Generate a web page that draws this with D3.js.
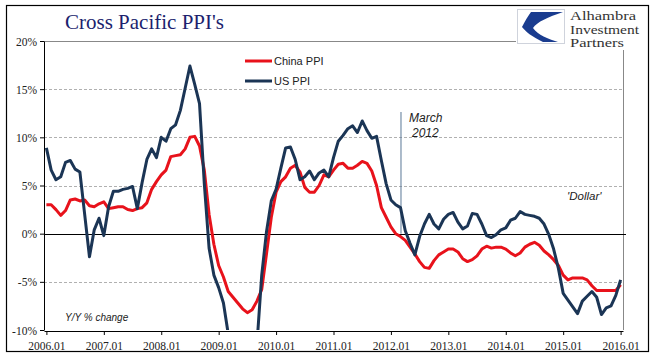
<!DOCTYPE html>
<html>
<head>
<meta charset="utf-8">
<script src="https://cdn.jsdelivr.net/npm/d3@7"></script>
<style>
  body { margin: 0; background: #fff; }
  svg { display: block; }
  .tick text { font-family: 'Liberation Serif', 'DejaVu Serif', serif; font-size: 11.5px; fill: #222; }
</style>
</head>
<body>
<svg id="chart" width="670" height="358"></svg>
<script>
// monthly, 2006.01 .. 2016.01
const startYear = 2006;
const monthCount = 121;
const months = d3.range(monthCount).map((i) => {
  const yr = startYear + Math.floor(i / 12);
  const m = (i % 12) + 1;
  return `${yr}.${String(m).padStart(2, '0')}`;
});

const tickLabels = ['2006.01', '2007.01', '2008.01', '2009.01', '2010.01', '2011.01',
  '2012.01', '2013.01', '2014.01', '2015.01', '2016.01'];
const yTicks = [-10, -5, 0, 5, 10, 15, 20];

const chinaPPI = [
  3.0, 3.0, 2.5, 1.9, 2.4, 3.5, 3.6, 3.4, 3.5, 2.9, 2.8, 3.1,
  3.3, 2.6, 2.7, 2.8, 2.8, 2.5, 2.4, 2.6, 2.7, 3.2, 4.6, 5.4,
  6.1, 6.6, 8.0, 8.1, 8.2, 8.8, 10.0, 10.1, 9.1, 6.6, 2.0, -1.1,
  -3.3, -4.5, -6.0, -6.6, -7.2, -7.8, -8.2, -7.9, -7.0, -5.8, -2.1, 1.7,
  4.3, 5.4, 5.9, 6.8, 7.1, 6.4, 4.8, 4.3, 4.3, 5.0, 6.1, 5.9,
  6.6, 7.2, 7.3, 6.8, 6.8, 7.1, 7.5, 7.3, 6.5, 5.0, 2.7, 1.7,
  0.7, 0.0, -0.3, -0.7, -1.4, -2.1, -2.9, -3.5, -3.6, -2.8, -2.2, -1.9,
  -1.6, -1.6, -1.9, -2.6, -2.9, -2.7, -2.3, -1.6, -1.3, -1.5, -1.4, -1.4,
  -1.6, -2.0, -2.3, -2.0, -1.4, -1.1, -0.9, -1.2, -1.8, -2.2, -2.7, -3.3,
  -4.3, -4.8, -4.6, -4.6, -4.6, -4.8, -5.4, -5.9, -5.9, -5.9, -5.9, -5.9,
  -5.3
];

const usPPI = [
  8.9, 6.6, 5.6, 5.9, 7.4, 7.6, 6.7, 6.4, 2.0, -2.4, 0.4, 1.6,
  -0.2, 2.8, 4.4, 4.4, 4.6, 4.7, 4.9, 2.6, 5.3, 7.7, 8.8, 7.9,
  10.0, 9.6, 10.9, 11.3, 12.8, 15.1, 17.4, 15.5, 13.5, 5.2, -1.5, -4.3,
  -5.6, -7.2, -10.4, -12.5, -14.6, -15.3, -16.6, -14.0, -11.5, -4.3, 0.2, 3.4,
  4.6, 6.8, 8.9, 9.0, 7.7, 5.6, 5.9, 6.5, 5.6, 6.3, 6.6, 5.9,
  7.9, 9.6, 10.2, 10.9, 11.2, 10.5, 11.7, 10.7, 9.9, 10.1, 7.6, 5.2,
  3.5, 3.0, 2.7, 0.3, -1.0, -2.2, -0.3, 1.0, 2.0, 1.0, 0.5, 1.5,
  2.0, 2.2, 1.2, 0.5, 0.8, 2.1, 2.0, 1.0, -0.2, -0.4, -0.1, 0.4,
  0.6, 1.4, 1.6, 2.3, 2.0, 1.9, 1.8, 1.6, 1.0, -0.1, -1.6, -3.6,
  -6.2, -6.9, -7.6, -8.3, -7.0, -6.5, -6.0, -6.6, -8.4, -7.7, -7.5, -6.4,
  -4.8
];

const series = [
  { name: 'China PPI', values: chinaPPI, color: '#e8121b' },
  { name: 'US PPI', values: usPPI, color: '#1b3555' }
];

const svg = d3.select('#chart');
const plot = { left: 44, right: 623, top: 41, bottom: 330 };

const x = d3.scalePoint().domain(months).range([plot.left, plot.right]).padding(0.5);
const y = d3.scaleLinear().domain([-10, 20]).range([plot.bottom, plot.top]);

// outer frame
svg.append('rect')
  .attr('x', 6.5).attr('y', 5.5).attr('width', 642).attr('height', 346)
  .attr('fill', 'none').attr('stroke', '#000').attr('stroke-width', 1.2);

// title
svg.append('text')
  .attr('x', 65).attr('y', 29)
  .attr('font-family', "'Liberation Serif', serif")
  .attr('font-size', 21)
  .attr('fill', '#1c1f6e')
  .text("Cross Pacific PPI's");

// gridlines
svg.append('g')
  .selectAll('line')
  .data(yTicks.filter((d) => d !== 0 && d !== -10 && d !== 20))
  .join('line')
  .attr('x1', plot.left).attr('x2', plot.right)
  .attr('y1', (d) => Math.round(y(d)) + 0.5).attr('y2', (d) => Math.round(y(d)) + 0.5)
  .attr('stroke', '#b0b0b0').attr('stroke-dasharray', '3,2');

// top and right plot borders
svg.append('line')
  .attr('x1', plot.left).attr('x2', 516)
  .attr('y1', Math.round(y(20)) + 0.5).attr('y2', Math.round(y(20)) + 0.5)
  .attr('stroke', '#888');
svg.append('line')
  .attr('x1', plot.right + 0.5).attr('x2', plot.right + 0.5)
  .attr('y1', 50).attr('y2', plot.bottom)
  .attr('stroke', '#888');

// zero line
svg.append('line')
  .attr('x1', plot.left).attr('x2', plot.right + 3)
  .attr('y1', Math.round(y(0)) + 0.5).attr('y2', Math.round(y(0)) + 0.5)
  .attr('stroke', '#000');

// March 2012 marker
svg.append('line')
  .attr('x1', x('2012.03') + 0.5).attr('x2', x('2012.03') + 0.5)
  .attr('y1', 112).attr('y2', y(0))
  .attr('stroke', '#5a7896').attr('stroke-width', 1);

const annot = svg.append('g')
  .attr('font-family', "'Liberation Sans', 'DejaVu Sans', sans-serif")
  .attr('font-style', 'italic')
  .attr('fill', '#222');
annot.append('text').attr('x', 409).attr('y', 122).attr('font-size', 12).text('March');
annot.append('text').attr('x', 412).attr('y', 137).attr('font-size', 12).text('2012');
annot.append('text').attr('x', 567).attr('y', 200).attr('font-size', 11.5).text("'Dollar'");
annot.append('text').attr('x', 65).attr('y', 321).attr('font-size', 10).text('Y/Y % change');

// lines
svg.append('clipPath').attr('id', 'plot-clip')
  .append('rect').attr('x', plot.left).attr('y', 20)
  .attr('width', plot.right - plot.left + 4).attr('height', plot.bottom - 20);

const line = d3.line()
  .x((d, i) => x(months[i]))
  .y((d) => y(d));

svg.append('g')
  .attr('clip-path', 'url(#plot-clip)')
  .selectAll('path')
  .data(series)
  .join('path')
  .attr('d', (s) => line(s.values))
  .attr('fill', 'none')
  .attr('stroke', (s) => s.color)
  .attr('stroke-width', 3)
  .attr('stroke-linejoin', 'round');

// axes
const yAxis = svg.append('g')
  .attr('transform', `translate(${plot.left},0)`)
  .call(d3.axisLeft(y).tickValues(yTicks).tickFormat((d) => d + '%').tickSize(4).tickSizeOuter(0));
yAxis.select('.domain').attr('stroke', '#000');
yAxis.selectAll('.tick text').attr('x', -7).attr('dy', '0.35em');

const xAxis = svg.append('g')
  .attr('transform', `translate(0,${plot.bottom + 1})`)
  .call(d3.axisBottom(x).tickValues(tickLabels).tickSize(4).tickSizeOuter(0));
xAxis.select('.domain').attr('stroke', '#000');
xAxis.selectAll('.tick text').attr('dy', '1.05em');

// legend
const legend = svg.append('g');
series.forEach((s, i) => {
  const ly = 61 + i * 20;
  legend.append('line')
    .attr('x1', 245).attr('x2', 272).attr('y1', ly).attr('y2', ly)
    .attr('stroke', s.color).attr('stroke-width', 3);
  legend.append('text')
    .attr('x', 274).attr('y', ly + 4)
    .attr('font-family', "'Liberation Sans', Arial, sans-serif")
    .attr('font-size', 11)
    .attr('fill', '#222')
    .text(s.name);
});

// logo
const logo = svg.append('g');
logo.append('rect')
  .attr('x', 517.5).attr('y', 9.5).attr('width', 47).attr('height', 34)
  .attr('fill', '#fff').attr('stroke', '#cfd3dc');
logo.append('path')
  .attr('d', 'M531,12 L563,12 C548,17 537,22 533,28 C538,35 548,39 558,42 L543,42 C532,37 525,31 522,27 C525,21 528,16 531,12 Z')
  .attr('fill', '#1a3c8f');
const logoLines = [
  { t: 'Alhambra', w: 66 },
  { t: 'Investment', w: 69 },
  { t: 'Partners', w: 54 }
];
logoLines.forEach((d, i) => {
  logo.append('text')
    .attr('x', 570).attr('y', 20 + i * 13.5)
    .attr('font-family', "'Liberation Serif', serif")
    .attr('font-size', 11.5)
    .attr('textLength', d.w)
    .attr('lengthAdjust', 'spacingAndGlyphs')
    .attr('fill', '#333')
    .text(d.t);
});
</script>
</body>
</html>
